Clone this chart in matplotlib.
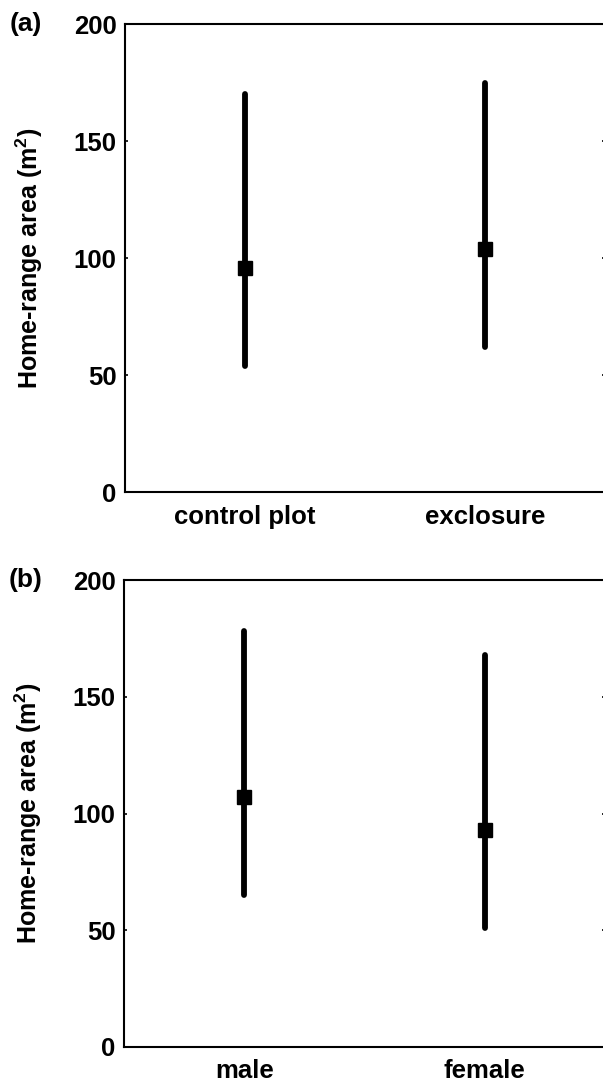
import matplotlib
matplotlib.use('Agg')
import matplotlib.pyplot as plt

plt.rcParams['font.family'] = ['Liberation Sans', 'DejaVu Sans']
plt.rcParams['font.weight'] = 'bold'
plt.rcParams['mathtext.fontset'] = 'custom'
plt.rcParams['mathtext.rm'] = 'Liberation Sans:bold'
plt.rcParams['mathtext.bf'] = 'Liberation Sans:bold'
plt.rcParams['mathtext.default'] = 'bf'

# panel (a): plot type
groups_a = ['control plot', 'exclosure']
mean_a = [96, 104]
low_a = [54, 62]
high_a = [170, 175]

# panel (b): sex
groups_b = ['male', 'female']
mean_b = [107, 93]
low_b = [65, 51]
high_b = [178, 168]

yticks = [0, 50, 100, 150, 200]

W, H = 603, 1082
fig = plt.figure(figsize=(W / 100, H / 100), dpi=100)


def panel(rect, groups, mean, low, high, tag):
    ax = fig.add_axes(rect)
    x = list(range(len(groups)))
    ax.vlines(x, low, high, colors='black', linewidth=4.2, capstyle='round', zorder=2)
    ax.plot(x, mean, 's', color='black', markersize=10, zorder=3)
    ax.set_xlim(-0.5, 1.5)
    ax.set_ylim(0, 200)
    ax.set_yticks(yticks)
    ax.set_xticks(x)
    ax.set_xticklabels(groups)
    ax.tick_params(axis='y', direction='in', length=2.5, width=1.2, pad=6,
                   labelsize=18.5, right=True)
    ax.tick_params(axis='x', length=0, pad=9, labelsize=18.5)
    for s in ax.spines.values():
        s.set_linewidth(1.5)
    ax.set_ylabel('Home-range area (m$^{2}$)', fontsize=18, fontweight='bold')
    ax.yaxis.set_label_coords(-0.167, 0.5)
    ax.text(-0.24, 1.0, tag, transform=ax.transAxes, fontsize=19,
            fontweight='bold', ha='left', va='center')
    return ax


panel([125 / W, 1 - 492.5 / H, 480 / W, (492.5 - 24) / H],
      groups_a, mean_a, low_a, high_a, '(a)')
panel([124 / W, 1 - 1047 / H, 481 / W, (1047 - 580) / H],
      groups_b, mean_b, low_b, high_b, '(b)')

fig.savefig('out.png', dpi=100)
